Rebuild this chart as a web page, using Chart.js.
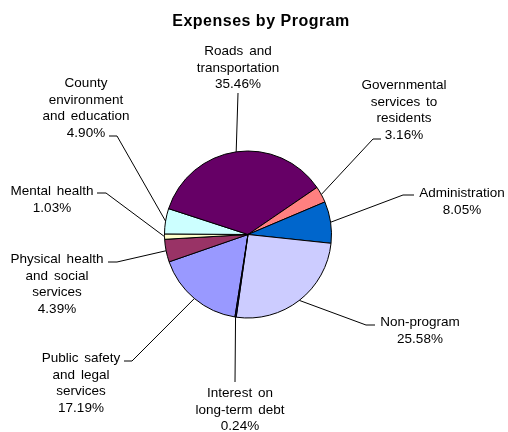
<!DOCTYPE html>
<html>
<head>
<meta charset="utf-8">
<script src="https://cdn.jsdelivr.net/npm/chart.js@4.4.0/dist/chart.umd.min.js"></script>
<style>
  html, body { margin: 0; padding: 0; background: #fff; }
</style>
</head>
<body>
<canvas id="myChart" width="508" height="432"></canvas>
<script>
const titulo = 'Expenses by Program';
const programas = [
    'Public safety and legal services',
    'Physical health and social services',
    'Mental health',
    'County environment and education',
    'Roads and transportation',
    'Governmental services to residents',
    'Administration',
    'Non-program',
    'Interest on long-term debt'
];
const porcentajes = [17.19, 4.39, 1.03, 4.90, 35.46, 3.16, 8.05, 25.58, 0.24];
const colores = ['#9999FF', '#993366', '#FFFFCC', '#CCFFFF', '#660066', '#FF8080', '#0066CC', '#CCCCFF', '#000080'];

// how each label is broken over lines (percent line is added after)
const lineasEtiqueta = [
    ['Public safety', 'and legal', 'services'],
    ['Physical health', 'and social', 'services'],
    ['Mental health'],
    ['County', 'environment', 'and education'],
    ['Roads and', 'transportation'],
    ['Governmental', 'services to', 'residents'],
    ['Administration'],
    ['Non-program'],
    ['Interest on', 'long-term debt']
];

// label placement: text centre x, first line y, leader start and elbow x
const posEtiqueta = [
    {x: 81,  y: 358, hx: 124, hy: 361, ex: 132},
    {x: 57,  y: 259, hx: 108, hy: 262, ex: 117},
    {x: 52,  y: 191, hx: 97,  hy: 193, ex: 106},
    {x: 86,  y: 83,  hx: 109, hy: 136, ex: 117},
    {x: 238, y: 51,  hx: 238, hy: 93,  ex: null},
    {x: 404, y: 85,  hx: 381, hy: 139, ex: 373},
    {x: 462, y: 193, hx: 414, hy: 195, ex: 403},
    {x: 420, y: 322, hx: 375, hy: 325, ex: 366},
    {x: 240, y: 393, hx: 235, hy: 382, ex: null}
];

const fuente = "'Liberation Sans', Arial, sans-serif";

const etiquetasPlugin = {
    id: 'etiquetas',
    afterDraw(chart) {
        const ctx = chart.ctx;
        const arcos = chart.getDatasetMeta(0).data;
        ctx.save();

        // titulo
        ctx.fillStyle = '#000';
        ctx.font = `bold 16px ${fuente}`;
        if ('letterSpacing' in ctx) ctx.letterSpacing = '0.5px';
        ctx.textAlign = 'center';
        ctx.textBaseline = 'alphabetic';
        ctx.fillText(titulo, 261, 26);
        if ('letterSpacing' in ctx) ctx.letterSpacing = '0px';

        // lineas guia
        ctx.strokeStyle = '#000';
        ctx.lineWidth = 1;
        arcos.forEach((arco, i) => {
            const p = arco.getProps(['x', 'y', 'startAngle', 'endAngle', 'outerRadius'], true);
            const medio = (p.startAngle + p.endAngle) / 2;
            const bx = p.x + Math.cos(medio) * p.outerRadius;
            const by = p.y + Math.sin(medio) * p.outerRadius;
            const pos = posEtiqueta[i];
            ctx.beginPath();
            ctx.moveTo(pos.hx, pos.hy);
            if (pos.ex !== null) ctx.lineTo(pos.ex, pos.hy);
            ctx.lineTo(bx, by);
            ctx.stroke();
        });

        // textos
        ctx.font = `13.5px ${fuente}`;
        if ('wordSpacing' in ctx) ctx.wordSpacing = '2px';
        ctx.textBaseline = 'middle';
        ctx.textAlign = 'center';
        lineasEtiqueta.forEach((lineas, i) => {
            const pos = posEtiqueta[i];
            const todas = lineas.concat([porcentajes[i].toFixed(2) + '%']);
            todas.forEach((t, j) => {
                ctx.fillText(t, pos.x, pos.y + j * 16.8);
            });
        });
        ctx.restore();
    }
};

new Chart(document.getElementById('myChart'), {
    type: 'pie',
    data: {
        labels: programas,
        datasets: [{
            data: porcentajes,
            backgroundColor: colores,
            borderColor: '#000',
            borderWidth: 1
        }]
    },
    options: {
        responsive: false,
        animation: false,
        rotation: 189,
        radius: 83.5,
        layout: {
            padding: {left: 0, right: 12, top: 37, bottom: 0}
        },
        plugins: {
            legend: {display: false},
            tooltip: {enabled: false},
            title: {display: false}
        }
    },
    plugins: [etiquetasPlugin]
});
</script>
</body>
</html>
